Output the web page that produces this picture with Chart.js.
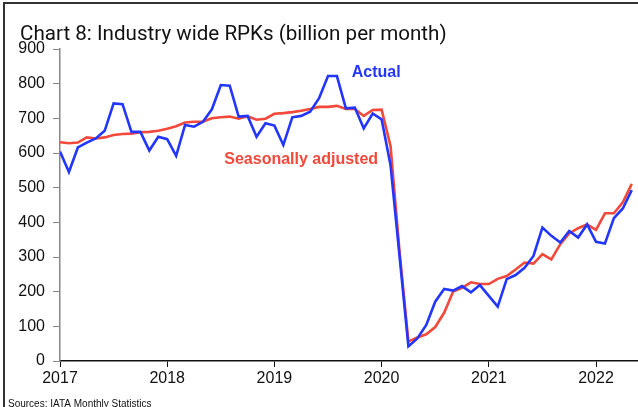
<!DOCTYPE html>
<html>
<head>
<meta charset="utf-8">
<script src="https://cdn.jsdelivr.net/npm/chart.js@4/dist/chart.umd.min.js"></script>
<style>
  html, body { margin: 0; padding: 0; background: #fff; }
  #wrap { position: relative; width: 638px; height: 407px; overflow: hidden; }
  #frame { position: absolute; left: 3px; top: 2px; width: 700px; height: 500px; border-left: 2px solid #333; border-top: 2px solid #333; }
  canvas { position: absolute; left: 0; top: 0; }
</style>
</head>
<body>
<div id="wrap">
  <div id="frame"></div>
  <canvas id="rpkChart" width="638" height="407"></canvas>
</div>
<script>
// Monthly RPKs, Jan 2017 .. May 2022 (billions)
const startYear = 2017;
const yearTicks = [0, 12, 24, 36, 48, 60];
const actual = [
  604, 545, 616, 630, 642, 664, 743, 741, 661, 661, 607, 647,
  640, 592, 681, 676, 690, 726, 796, 794, 705, 707, 647, 686,
  679, 623, 703, 707, 719, 758, 822, 822, 729, 731, 671, 714,
  697, 565, 305, 42, 65, 104, 171, 208, 203, 216, 198, 219,
  188, 157, 236, 248, 269, 303, 385, 361, 342, 375, 356, 394,
  344, 339, 412, 440, 493
];
const seasonallyAdjusted = [
  631, 628, 630, 645, 642, 645, 652, 655, 656, 660, 661, 664,
  670, 677, 688, 690, 690, 700, 703, 705, 699, 706, 696, 699,
  713, 715, 718, 722, 727, 733, 733, 736, 727, 727, 707, 724,
  725, 620, 318, 56, 68, 77, 98, 139, 200, 211, 227, 222,
  222, 237, 245, 264, 284, 281, 308, 293, 337, 368, 383, 394,
  378, 426, 426, 458, 511
];

const BLUE = "#2236ff";
const RED = "#f2493b";
const toPoints = (arr) => arr.map((v, i) => ({ x: i, y: v }));

// title, source note and the two series labels
const annotations = {
  id: "annotations",
  afterDatasetsDraw(chart) {
    const { ctx, scales: { x, y } } = chart;
    ctx.save();
    ctx.textBaseline = "middle";
    ctx.fillStyle = "#111";
    ctx.font = "20.6px Roboto";
    ctx.textAlign = "left";
    ctx.fillText("Chart 8: Industry wide RPKs (billion per month)", 20, 35);
    ctx.font = "10px 'Liberation Sans'";
    ctx.fillText("Sources: IATA Monthly Statistics", 8, 404);
    ctx.font = "bold 16px 'Liberation Sans'";
    ctx.textAlign = "center";
    ctx.fillStyle = BLUE;
    ctx.fillText("Actual", x.getPixelForValue(35.4), y.getPixelForValue(833));
    ctx.fillStyle = RED;
    ctx.fillText("Seasonally adjusted", x.getPixelForValue(27), y.getPixelForValue(580));
    ctx.restore();
  }
};

new Chart(document.getElementById("rpkChart"), {
  type: "line",
  data: {
    datasets: [
      { label: "Actual", data: toPoints(actual), borderColor: BLUE, borderWidth: 2.6, pointRadius: 0, tension: 0 },
      { label: "Seasonally adjusted", data: toPoints(seasonallyAdjusted), borderColor: RED, borderWidth: 2.6, pointRadius: 0, tension: 0 }
    ]
  },
  options: {
    responsive: false,
    animation: false,
    layout: { padding: { top: 49, right: 0, bottom: 0, left: 0 } },
    plugins: { legend: { display: false }, tooltip: { enabled: false } },
    scales: {
      x: {
        type: "linear",
        min: 0,
        max: 64.7,
        afterBuildTicks: (scale) => { scale.ticks = yearTicks.map((v) => ({ value: v })); },
        afterFit: (scale) => { scale.height = 46; },
        grid: { drawOnChartArea: false, color: "#111", tickLength: 6 },
        border: { color: "#111", width: 1.5 },
        ticks: { color: "#111", padding: 2, maxRotation: 0, font: { family: "Liberation Sans", size: 16 }, callback: (v) => String(startYear + v / 12) }
      },
      y: {
        min: 0,
        max: 900,
        afterFit: (scale) => { scale.width = 60; },
        grid: { drawOnChartArea: false, color: "#888", tickLength: 7 },
        border: { color: "#888", width: 1.5 },
        ticks: { stepSize: 100, color: "#111", padding: 8, font: { family: "Liberation Sans", size: 16 } }
      }
    }
  },
  plugins: [annotations]
});
</script>
</body>
</html>
